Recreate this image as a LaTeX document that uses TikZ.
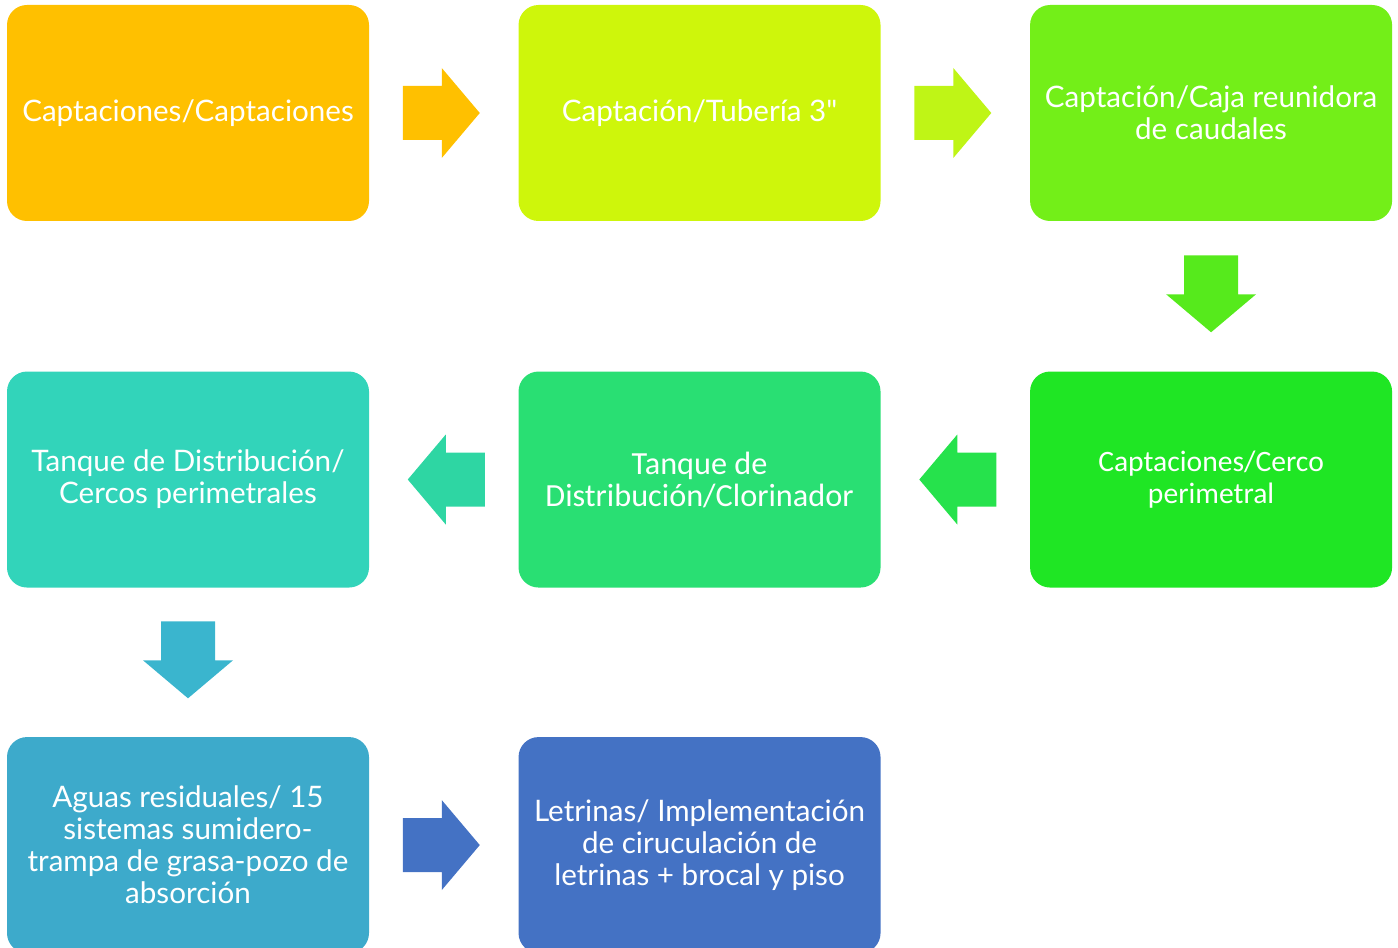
\documentclass[tikz,border=0pt]{standalone}
\usepackage{fontspec}
\setmainfont{Lato}[Ligatures=TeXOff]
\newfontfamily\carlito{Carlito}
\usetikzlibrary{positioning,calc}
\definecolor{cA}{HTML}{FFC000}
\definecolor{cB}{HTML}{CEF60B}
\definecolor{cBa}{HTML}{BFF516}
\definecolor{cC}{HTML}{73EF18}
\definecolor{cCa}{HTML}{56EA1C}
\definecolor{cD}{HTML}{1FE624}
\definecolor{cDa}{HTML}{26E24C}
\definecolor{cE}{HTML}{29DF73}
\definecolor{cEa}{HTML}{2ED6A3}
\definecolor{cF}{HTML}{32D4BA}
\definecolor{cFa}{HTML}{3AB5CE}
\definecolor{cG}{HTML}{3DAACB}
\definecolor{cH}{HTML}{4472C4}

\begin{document}
\begin{tikzpicture}[x=0.75pt,y=-0.75pt,
bx/.style={rounded corners=15pt,minimum width=271.5pt,minimum height=162pt,
inner sep=0pt,text=white,align=center,font=\fontsize{22.2}{24}\selectfont},
blockarrow/.pic={\fill (-41,-27) -- (-2,-27) -- (-2,-45) -- (36,0)
  -- (-2,45) -- (-2,27) -- (-41,27) -- cycle;}]
\useasboundingbox (0,0) rectangle (1398,948);
\clip (0,0) rectangle (1398,948);
% first row
\node[bx,fill=cA] (capt) at (188,113) {Captaciones/Captaciones};
\node[bx,fill=cB,right=111.75pt of capt] (tub) {Captación/Tubería 3"};
\node[bx,fill=cC,right=111.75pt of tub] (caja) {Captación/Caja reunidora\\de caudales};
% second row
\node[bx,fill=cD,below=112.5pt of caja,font=\carlito\fontsize{22.2}{24}\selectfont] (cerco)
  {Captaciones/Cerco\\perimetral};
\node[bx,fill=cE,left=111.75pt of cerco,font=\carlito\fontsize{24.2}{24}\selectfont] (clor)
  {Tanque de\\Distribución/Clorinador};
\node[bx,fill=cF,left=111.75pt of clor] (tanq) {Tanque de Distribución/\\Cercos perimetrales};
% third row
\node[bx,fill=cG,below=111.75pt of tanq] (aguas)
  {Aguas residuales/ 15\\sistemas sumidero-\\trampa de grasa-pozo de\\absorción};
\node[bx,fill=cH,right=111.75pt of aguas] (letr)
  {Letrinas/ Implementación\\de ciruculación de\\letrinas + brocal y piso};
% arrows between the boxes
\pic[fill=cA] at ($(capt.east)!0.5!(tub.west)$) {blockarrow};
\pic[fill=cBa] at ($(tub.east)!0.5!(caja.west)$) {blockarrow};
\pic[fill=cCa,rotate=-90] at ($(caja.south)!0.5!(cerco.north)$) {blockarrow};
\pic[fill=cDa,rotate=180] at ($(cerco.west)!0.5!(clor.east)$) {blockarrow};
\pic[fill=cEa,rotate=180] at ($(clor.west)!0.5!(tanq.east)$) {blockarrow};
\pic[fill=cFa,rotate=-90] at ($(tanq.south)!0.5!(aguas.north)$) {blockarrow};
\pic[fill=cH] at ($(aguas.east)!0.5!(letr.west)$) {blockarrow};
\end{tikzpicture}
\end{document}
